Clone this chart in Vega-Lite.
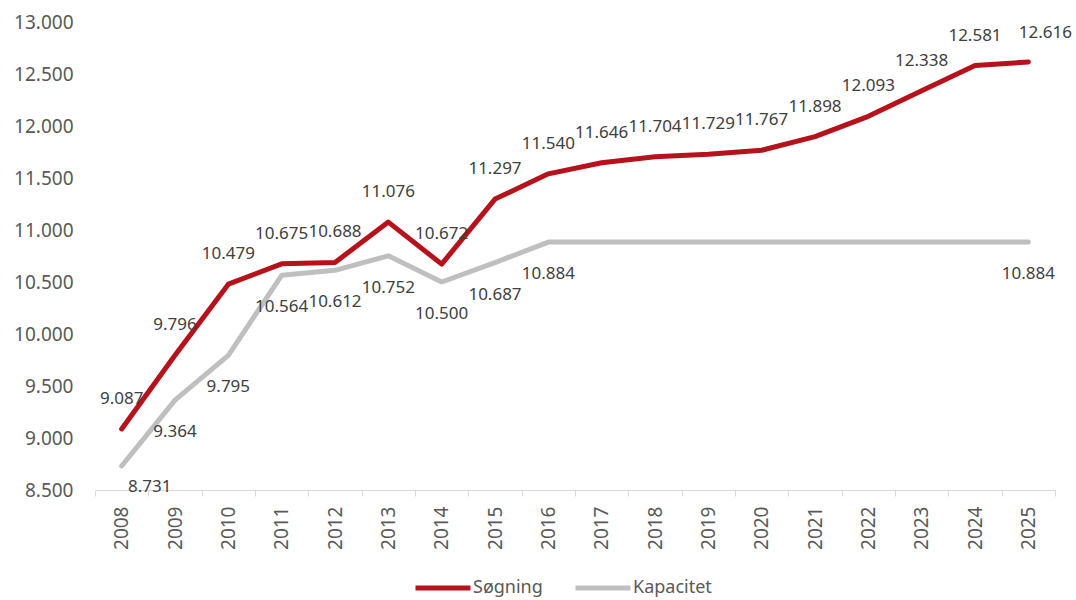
{
  "$schema": "https://vega.github.io/schema/vega-lite/v6.json",
  "width": 960,
  "height": 468,
  "autosize": "none",
  "padding": {"left": 95, "top": 22, "right": 21, "bottom": 110},
  "config": {
    "locale": {"number": {"decimal": ",", "thousands": ".", "grouping": [3], "currency": ["", " kr."]}},
    "view": {"stroke": null},
    "font": "Noto Sans"
  },
  "data": {
    "values": [
      {"aar": 2008, "serie": "Søgning", "vaerdi": 9087},
      {"aar": 2009, "serie": "Søgning", "vaerdi": 9796},
      {"aar": 2010, "serie": "Søgning", "vaerdi": 10479},
      {"aar": 2011, "serie": "Søgning", "vaerdi": 10675},
      {"aar": 2012, "serie": "Søgning", "vaerdi": 10688},
      {"aar": 2013, "serie": "Søgning", "vaerdi": 11076},
      {"aar": 2014, "serie": "Søgning", "vaerdi": 10672},
      {"aar": 2015, "serie": "Søgning", "vaerdi": 11297},
      {"aar": 2016, "serie": "Søgning", "vaerdi": 11540},
      {"aar": 2017, "serie": "Søgning", "vaerdi": 11646},
      {"aar": 2018, "serie": "Søgning", "vaerdi": 11704},
      {"aar": 2019, "serie": "Søgning", "vaerdi": 11729},
      {"aar": 2020, "serie": "Søgning", "vaerdi": 11767},
      {"aar": 2021, "serie": "Søgning", "vaerdi": 11898},
      {"aar": 2022, "serie": "Søgning", "vaerdi": 12093},
      {"aar": 2023, "serie": "Søgning", "vaerdi": 12338},
      {"aar": 2024, "serie": "Søgning", "vaerdi": 12581},
      {"aar": 2025, "serie": "Søgning", "vaerdi": 12616},
      {"aar": 2008, "serie": "Kapacitet", "vaerdi": 8731},
      {"aar": 2009, "serie": "Kapacitet", "vaerdi": 9364},
      {"aar": 2010, "serie": "Kapacitet", "vaerdi": 9795},
      {"aar": 2011, "serie": "Kapacitet", "vaerdi": 10564},
      {"aar": 2012, "serie": "Kapacitet", "vaerdi": 10612},
      {"aar": 2013, "serie": "Kapacitet", "vaerdi": 10752},
      {"aar": 2014, "serie": "Kapacitet", "vaerdi": 10500},
      {"aar": 2015, "serie": "Kapacitet", "vaerdi": 10687},
      {"aar": 2016, "serie": "Kapacitet", "vaerdi": 10884},
      {"aar": 2017, "serie": "Kapacitet", "vaerdi": 10884},
      {"aar": 2018, "serie": "Kapacitet", "vaerdi": 10884},
      {"aar": 2019, "serie": "Kapacitet", "vaerdi": 10884},
      {"aar": 2020, "serie": "Kapacitet", "vaerdi": 10884},
      {"aar": 2021, "serie": "Kapacitet", "vaerdi": 10884},
      {"aar": 2022, "serie": "Kapacitet", "vaerdi": 10884},
      {"aar": 2023, "serie": "Kapacitet", "vaerdi": 10884},
      {"aar": 2024, "serie": "Kapacitet", "vaerdi": 10884},
      {"aar": 2025, "serie": "Kapacitet", "vaerdi": 10884}
    ]
  },
  "encoding": {
    "x": {
      "field": "aar",
      "type": "ordinal",
      "sort": "ascending",
      "scale": {"type": "band", "paddingInner": 0, "paddingOuter": 0},
      "axis": {
        "title": null,
        "labelAngle": -90,
        "labelAlign": "right",
        "labelBaseline": "middle",
        "labelFontSize": 19,
        "labelColor": "#595959",
        "labelPadding": 10,
        "tickBand": "extent",
        "tickSize": 6,
        "tickColor": "#d9d9d9",
        "domainColor": "#d9d9d9",
        "domainWidth": 1,
        "grid": false
      }
    },
    "y": {
      "field": "vaerdi",
      "type": "quantitative",
      "scale": {"domain": [8500, 13000], "nice": false, "zero": false},
      "axis": {
        "title": null,
        "format": ",.0f",
        "values": [8500, 9000, 9500, 10000, 10500, 11000, 11500, 12000, 12500, 13000],
        "labelFontSize": 19,
        "labelColor": "#595959",
        "labelPadding": 22,
        "ticks": false,
        "domain": false,
        "grid": false
      }
    }
  },
  "layer": [
    {
      "mark": {"type": "line", "strokeWidth": 5, "strokeJoin": "round", "strokeCap": "round"},
      "encoding": {
        "color": {
          "field": "serie",
          "type": "nominal",
          "scale": {"domain": ["Søgning", "Kapacitet"], "range": ["#b5121b", "#bfbfbf"]},
          "legend": {
            "title": null,
            "orient": "none",
            "direction": "horizontal",
            "legendX": 318,
            "legendY": 536,
            "symbolType": "stroke",
            "symbolSize": 3025,
            "symbolStrokeWidth": 5,
            "labelFontSize": 18,
            "labelColor": "#595959",
            "labelOffset": 0,
            "columnPadding": 22
          }
        }
      }
    },
    {
      "transform": [{"filter": "datum.serie == 'Søgning' && datum.aar < 2025"}],
      "mark": {"type": "text", "dy": -30, "fontSize": 17, "color": "#404040"},
      "encoding": {"text": {"field": "vaerdi", "type": "quantitative", "format": ",.0f"}}
    },
    {
      "transform": [{"filter": "datum.serie == 'Søgning' && datum.aar == 2025"}],
      "mark": {"type": "text", "dx": 17, "dy": -29, "fontSize": 17, "color": "#404040"},
      "encoding": {"text": {"field": "vaerdi", "type": "quantitative", "format": ",.0f"}}
    },
    {
      "transform": [{"filter": "datum.serie == 'Kapacitet' && datum.aar >= 2009 && (datum.aar <= 2016 || datum.aar == 2025)"}],
      "mark": {"type": "text", "dy": 32, "fontSize": 17, "color": "#404040"},
      "encoding": {"text": {"field": "vaerdi", "type": "quantitative", "format": ",.0f"}}
    },
    {
      "transform": [{"filter": "datum.serie == 'Kapacitet' && datum.aar == 2008"}],
      "mark": {"type": "text", "dx": 28, "dy": 21, "fontSize": 17, "color": "#404040"},
      "encoding": {"text": {"field": "vaerdi", "type": "quantitative", "format": ",.0f"}}
    }
  ]
}
